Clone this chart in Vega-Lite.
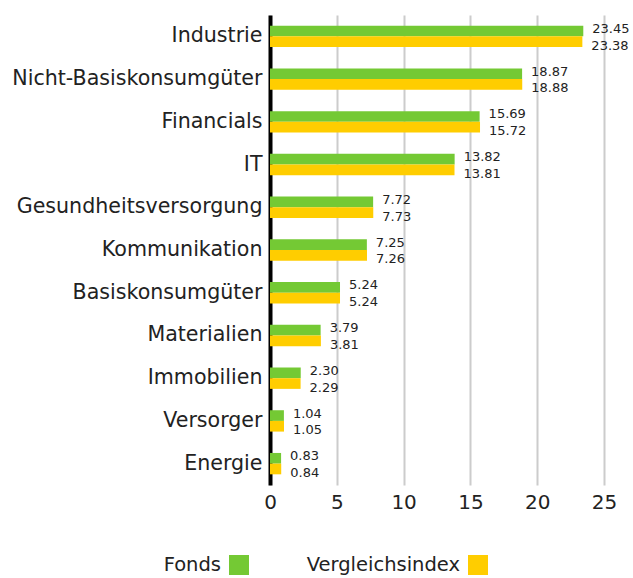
{
  "$schema": "https://vega.github.io/schema/vega-lite/v6.json",
  "autosize": "none",
  "width": 334,
  "height": 470,
  "padding": {"left": 270, "top": 15, "right": 29, "bottom": 93},
  "config": {
    "font": "DejaVu Sans",
    "view": {"stroke": null}
  },
  "data": {
    "values": [
      {"sector": "Industrie", "series": "Fonds", "value": 23.45},
      {"sector": "Industrie", "series": "Vergleichsindex", "value": 23.38},
      {"sector": "Nicht-Basiskonsumgüter", "series": "Fonds", "value": 18.87},
      {"sector": "Nicht-Basiskonsumgüter", "series": "Vergleichsindex", "value": 18.88},
      {"sector": "Financials", "series": "Fonds", "value": 15.69},
      {"sector": "Financials", "series": "Vergleichsindex", "value": 15.72},
      {"sector": "IT", "series": "Fonds", "value": 13.82},
      {"sector": "IT", "series": "Vergleichsindex", "value": 13.81},
      {"sector": "Gesundheitsversorgung", "series": "Fonds", "value": 7.72},
      {"sector": "Gesundheitsversorgung", "series": "Vergleichsindex", "value": 7.73},
      {"sector": "Kommunikation", "series": "Fonds", "value": 7.25},
      {"sector": "Kommunikation", "series": "Vergleichsindex", "value": 7.26},
      {"sector": "Basiskonsumgüter", "series": "Fonds", "value": 5.24},
      {"sector": "Basiskonsumgüter", "series": "Vergleichsindex", "value": 5.24},
      {"sector": "Materialien", "series": "Fonds", "value": 3.79},
      {"sector": "Materialien", "series": "Vergleichsindex", "value": 3.81},
      {"sector": "Immobilien", "series": "Fonds", "value": 2.30},
      {"sector": "Immobilien", "series": "Vergleichsindex", "value": 2.29},
      {"sector": "Versorger", "series": "Fonds", "value": 1.04},
      {"sector": "Versorger", "series": "Vergleichsindex", "value": 1.05},
      {"sector": "Energie", "series": "Fonds", "value": 0.83},
      {"sector": "Energie", "series": "Vergleichsindex", "value": 0.84}
    ]
  },
  "encoding": {
    "y": {
      "field": "sector",
      "type": "nominal",
      "sort": null,
      "scale": {"paddingInner": 0.5, "paddingOuter": 0.25},
      "axis": {
        "title": null,
        "ticks": false,
        "domainColor": "#000000",
        "domainWidth": 4,
        "labelFontSize": 20.6,
        "labelColor": "#222222",
        "labelPadding": 8,
        "labelLimit": 300
      }
    },
    "yOffset": {"field": "series", "type": "nominal", "sort": ["Fonds", "Vergleichsindex"]},
    "x": {
      "field": "value",
      "type": "quantitative",
      "scale": {"domain": [0, 25]},
      "axis": {
        "title": null,
        "values": [0, 5, 10, 15, 20, 25],
        "domain": false,
        "ticks": false,
        "labelFlush": false,
        "gridColor": "#cccccc",
        "gridWidth": 2,
        "labelFontSize": 20,
        "labelColor": "#222222",
        "labelPadding": 7
      }
    }
  },
  "layer": [
    {
      "mark": {"type": "bar", "clip": false},
      "encoding": {
        "color": {
          "field": "series",
          "type": "nominal",
          "scale": {"domain": ["Fonds", "Vergleichsindex"], "range": ["#74c934", "#ffcd00"]},
          "legend": {
            "title": null,
            "orient": "none",
            "direction": "horizontal",
            "legendX": -41,
            "legendY": 540,
            "symbolType": "square",
            "symbolSize": 400,
            "symbolStrokeWidth": 0,
            "symbolOpacity": 1,
            "labelFontSize": 19.5,
            "labelColor": "#222222",
            "labelAlign": "right",
            "labelOffset": -28,
            "columnPadding": 57
          }
        }
      }
    },
    {
      "transform": [{"filter": "datum.series === 'Fonds'"}],
      "mark": {"type": "text", "align": "left", "dx": 9, "dy": -2, "fontSize": 13, "color": "#222222", "baseline": "middle"},
      "encoding": {
        "text": {"field": "value", "type": "quantitative", "format": ".2f"}
      }
    },
    {
      "transform": [{"filter": "datum.series === 'Vergleichsindex'"}],
      "mark": {"type": "text", "align": "left", "dx": 9, "dy": 4, "fontSize": 13, "color": "#222222", "baseline": "middle"},
      "encoding": {
        "text": {"field": "value", "type": "quantitative", "format": ".2f"}
      }
    }
  ]
}
